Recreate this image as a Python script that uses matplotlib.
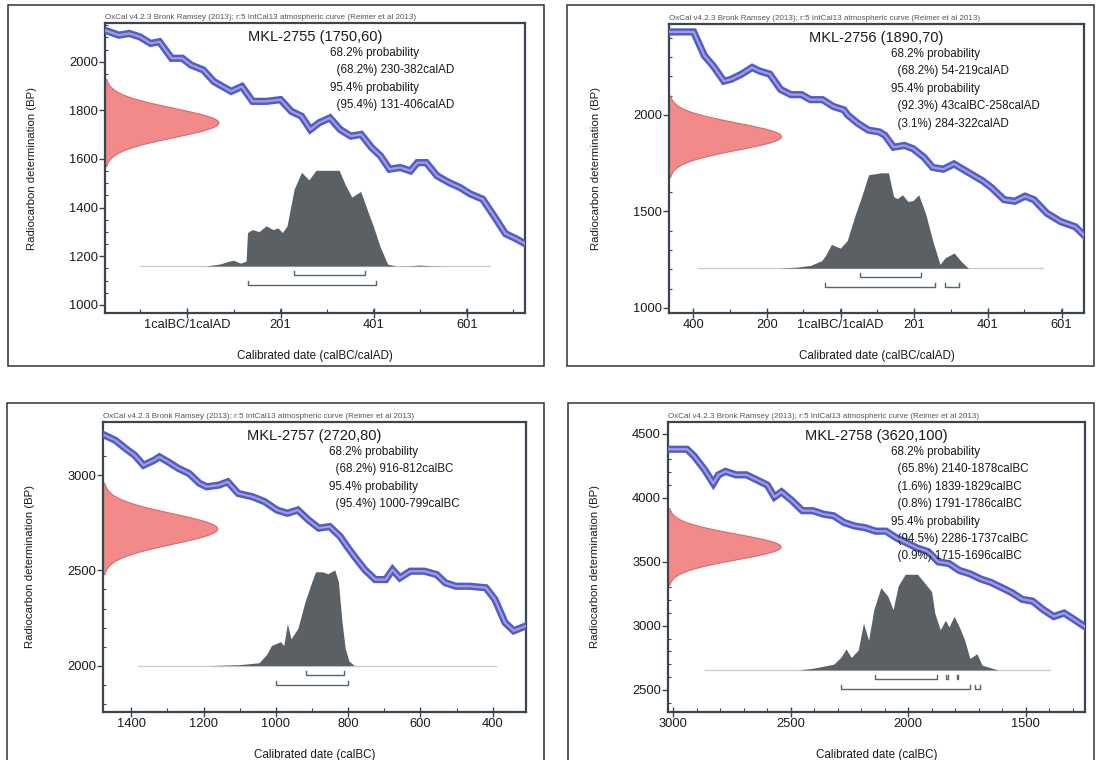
import numpy as np
import matplotlib.pyplot as plt
from matplotlib.patches import Rectangle
from matplotlib.ticker import MultipleLocator
import matplotlib.transforms as mtransforms

plt.rcParams['font.family'] = ['Liberation Sans', 'DejaVu Sans']

W, H = 1096, 760
HEADER = "OxCal v4.2.3 Bronk Ramsey (2013); r:5 IntCal13 atmospheric curve (Reimer et al 2013)"

# ---- MKL-2755 ----
s1_name = "MKL-2755"
s1_bp, s1_err = 1750, 60
s1_text = ["68.2% probability", "  (68.2%) 230-382calAD",
           "95.4% probability", "  (95.4%) 131-406calAD"]
s1_r68 = [(230, 382)]
s1_r95 = [(131, 406)]
s1_curve_x = [-176, -146, -124, -101, -78, -59, -33, -10, 9, 35, 58, 95, 118, 141, 171, 201,
              224, 246, 265, 284, 307, 329, 352, 374, 397, 416, 435, 458, 480, 495, 514, 537,
              563, 586, 609, 635, 661, 684, 707, 726]
s1_curve_y = [2129, 2109, 2116, 2102, 2075, 2082, 2014, 2014, 1986, 1966, 1918, 1878, 1898, 1837,
              1837, 1844, 1796, 1776, 1721, 1749, 1769, 1721, 1694, 1701, 1646, 1612, 1558, 1565,
              1551, 1585, 1585, 1531, 1503, 1483, 1456, 1435, 1361, 1293, 1272, 1252]
s1_post_x = [40, 70, 90, 100, 115, 127, 130, 140, 155, 170, 185, 195, 205, 215, 230, 246, 262,
             277, 300, 327, 340, 354, 373, 390, 400, 415, 431, 450, 480, 500, 520, 560]
s1_post_p = [0, 0.02, 0.05, 0.06, 0.03, 0.05, 0.35, 0.38, 0.36, 0.42, 0.38, 0.40, 0.35, 0.42,
             0.80, 0.98, 0.90, 1.0, 1.0, 1.0, 0.85, 0.72, 0.78, 0.55, 0.42, 0.20, 0.02, 0,
             0.003, 0.01, 0.003, 0]
s1_base_x = (-101, 650)

# ---- MKL-2756 ----
s2_name = "MKL-2756"
s2_bp, s2_err = 1890, 70
s2_text = ["68.2% probability", "  (68.2%) 54-219calAD",
           "95.4% probability", "  (92.3%) 43calBC-258calAD", "  (3.1%) 284-322calAD"]
s2_r68 = [(54, 219)]
s2_r95 = [(-42, 258), (284, 322)]
s2_curve_x = [-465, -398, -369, -345, -316, -297, -268, -239, -220, -191, -162, -134, -105, -81,
              -48, -19, 10, 20, 48, 77, 106, 121, 145, 174, 198, 227, 251, 280, 309, 348, 387,
              411, 445, 474, 502, 526, 561, 599, 638, 662]
s2_curve_y = [2430, 2430, 2307, 2254, 2175, 2184, 2211, 2246, 2228, 2211, 2132, 2105, 2105, 2079,
              2079, 2044, 2026, 2000, 1956, 1921, 1912, 1895, 1833, 1842, 1825, 1781, 1728, 1719,
              1746, 1702, 1658, 1623, 1561, 1553, 1579, 1561, 1491, 1447, 1421, 1377]
s2_post_x = [-165, -120, -80, -50, -39, -24, 0, 19, 39, 58, 77, 111, 131, 145, 155, 169, 184,
             198, 213, 232, 251, 271, 285, 300, 309, 329, 348, 396]
s2_post_p = [0, 0.01, 0.03, 0.08, 0.14, 0.25, 0.21, 0.29, 0.54, 0.75, 0.98, 1.0, 1.0, 0.75,
             0.73, 0.77, 0.70, 0.71, 0.77, 0.57, 0.29, 0.04, 0.11, 0.14, 0.16, 0.07, 0, 0]
s2_base_x = (-386, 551)

# ---- MKL-2757 ----
s3_name = "MKL-2757"
s3_bp, s3_err = 2720, 80
s3_text = ["68.2% probability", "  (68.2%) 916-812calBC",
           "95.4% probability", "  (95.4%) 1000-799calBC"]
s3_r68 = [(916, 812)]
s3_r95 = [(1000, 799)]
s3_curve_x = [1473, 1444, 1415, 1390, 1366, 1337, 1322, 1298, 1269, 1240, 1211, 1191, 1157, 1133,
              1104, 1065, 1031, 997, 968, 939, 910, 881, 851, 822, 803, 783, 754, 725, 696, 677,
              657, 628, 589, 555, 531, 502, 463, 419, 394, 366, 342, 308]
s3_curve_y = [3209, 3183, 3139, 3104, 3052, 3078, 3096, 3070, 3035, 3009, 2957, 2939, 2948, 2965,
              2904, 2887, 2861, 2817, 2800, 2817, 2765, 2722, 2730, 2678, 2626, 2574, 2504, 2452,
              2452, 2504, 2461, 2496, 2496, 2478, 2435, 2417, 2417, 2409, 2348, 2226, 2183, 2209]
s3_post_x = [1185, 1100, 1046, 1025, 1012, 987, 978, 968, 958, 939, 919, 900, 890, 871, 856, 837,
             827, 817, 808, 798, 783]
s3_post_p = [0, 0.01, 0.03, 0.12, 0.21, 0.25, 0.21, 0.44, 0.28, 0.39, 0.67, 0.88, 0.98, 0.98,
             0.96, 1.0, 0.88, 0.46, 0.18, 0.05, 0]
s3_base_x = (1381, 391)

# ---- MKL-2758 ----
s4_name = "MKL-2758"
s4_bp, s4_err = 3620, 100
s4_text = ["68.2% probability", "  (65.8%) 2140-1878calBC", "  (1.6%) 1839-1829calBC",
           "  (0.8%) 1791-1786calBC", "95.4% probability", "  (94.5%) 2286-1737calBC",
           "  (0.9%) 1715-1696calBC"]
s4_r68 = [(2140, 1878), (1839, 1829), (1791, 1786)]
s4_r95 = [(2286, 1737), (1715, 1696)]
s4_curve_x = [3015, 2941, 2911, 2866, 2829, 2807, 2777, 2733, 2688, 2643, 2599, 2569, 2539, 2495,
              2450, 2406, 2361, 2317, 2272, 2227, 2183, 2138, 2094, 2049, 2004, 1960, 1915, 1871,
              1826, 1782, 1737, 1692, 1648, 1603, 1559, 1514, 1470, 1425, 1380, 1336, 1291, 1247]
s4_curve_y = [4380, 4380, 4327, 4220, 4113, 4180, 4207, 4180, 4180, 4140, 4100, 4007, 4047, 3980,
              3900, 3900, 3873, 3860, 3807, 3780, 3767, 3740, 3740, 3687, 3647, 3607, 3580, 3500,
              3487, 3433, 3407, 3367, 3340, 3300, 3260, 3207, 3193, 3127, 3073, 3100, 3047, 2993]
s4_post_x = [2465, 2400, 2317, 2287, 2264, 2242, 2212, 2190, 2168, 2146, 2116, 2086, 2064, 2042,
             2012, 1960, 1930, 1900, 1886, 1863, 1841, 1826, 1804, 1782, 1759, 1737, 1707, 1685,
             1618]
s4_post_p = [0, 0.02, 0.06, 0.13, 0.22, 0.13, 0.21, 0.49, 0.31, 0.63, 0.86, 0.77, 0.63, 0.88,
             1.0, 1.0, 0.91, 0.82, 0.59, 0.42, 0.52, 0.45, 0.56, 0.45, 0.31, 0.12, 0.17, 0.05, 0]
s4_base_x = (2866, 1395)

fig = plt.figure(figsize=(W / 100, H / 100), dpi=100)

# panel frames
for l, t, r, b in [(8, 5, 544, 366), (567, 5, 1094, 366), (7, 403, 544, 775), (568, 403, 1094, 775)]:
    fig.add_artist(Rectangle((l / W, 1 - b / H), (r - l) / W, (b - t) / H, transform=fig.transFigure,
                             fill=False, lw=1.1, ec='#333333'))

TXT = '#1a1a1a'
AXC = '#3a4550'


def add_panel(box, name, bp, err, lines, curve_x, curve_y, post_x, post_p, base_x, r68, r95,
              xlim, ylim, xticks, xlabels, ymajor, yminor, xminor, xlabel, base_frac):
    l, t, r, b = box
    ax = fig.add_axes([l / W, 1 - b / H, (r - l) / W, (b - t) / H])
    ax.set_xlim(*xlim)
    ax.set_ylim(*ylim)
    hpx = b - t
    blend = mtransforms.blended_transform_factory(ax.transData, ax.transAxes)
    blend_y = mtransforms.blended_transform_factory(ax.transAxes, ax.transData)

    # measured radiocarbon age on the y axis
    yy = np.linspace(bp - 3 * err, bp + 3 * err, 200)
    dens = np.exp(-0.5 * ((yy - bp) / err) ** 2)
    ax.fill_betweenx(yy, 0, 0.27 * dens, transform=blend_y, color='#f28a8a', lw=0.8,
                     edgecolor='#d86a6a', zorder=2)

    # calibration curve
    ax.plot(curve_x, curve_y, color='#4d5ecb', lw=5.2, solid_joinstyle='miter', zorder=3)
    ax.plot(curve_x, curve_y, color='#a99ad8', lw=1.6, zorder=4)

    # calibrated distribution
    ax.plot(base_x, [base_frac, base_frac], transform=blend, color='#c3ccd4', lw=0.9, zorder=2)
    pp = np.array(post_p)
    ax.fill_between(post_x, base_frac, base_frac + 0.33 * pp, transform=blend,
                    color='#5b6064', lw=0, zorder=5)

    # probability ranges
    tick = 0.014
    for rng, yf in [(r68, base_frac - 0.032), (r95, base_frac - 0.066)]:
        for a, c in rng:
            ax.plot([a, a, c, c], [yf + tick, yf, yf, yf + tick], transform=blend,
                    color='#56646e', lw=1.0, zorder=5)

    ax.text(0.5, 1 - 14 / hpx, f"{name} ({bp},{err})", transform=ax.transAxes, ha='center',
            va='center', fontsize=10.5, color=TXT)
    for i, s in enumerate(lines):
        ax.text(0.535, 1 - (30 + 17.4 * i) / hpx, s, transform=ax.transAxes, ha='left',
                va='center', fontsize=8.4, color=TXT)
    ax.text(0.0, 1.008, HEADER, transform=ax.transAxes, ha='left', va='bottom', fontsize=5.8,
            color='#555555')

    ax.set_xticks(xticks)
    ax.set_xticklabels(xlabels)
    ax.xaxis.set_minor_locator(MultipleLocator(xminor))
    ax.yaxis.set_major_locator(MultipleLocator(ymajor))
    ax.yaxis.set_minor_locator(MultipleLocator(yminor))
    ax.tick_params(axis='x', which='major', direction='inout', length=7, width=1, pad=1,
                   labelsize=9.3, color=AXC, labelcolor=TXT)
    ax.tick_params(axis='x', which='minor', direction='in', length=3, width=0.8, color=AXC)
    ax.tick_params(axis='y', which='major', direction='out', length=4, width=1, pad=1,
                   labelsize=9.3, color=AXC, labelcolor=TXT)
    ax.tick_params(axis='y', which='minor', direction='in', length=2.5, width=0.8, color=AXC)
    for sp in ax.spines.values():
        sp.set_color(AXC)
        sp.set_linewidth(1.6)
    ax.set_ylabel("Radiocarbon determination (BP)", fontsize=8.2, color=TXT)
    ax.yaxis.set_label_coords(-68 / (r - l), 0.5)
    ax.set_xlabel(xlabel, fontsize=8.4, color=TXT)
    ax.xaxis.set_label_coords(0.5, -37 / hpx)
    return ax


add_panel((105, 23, 525, 313), s1_name, s1_bp, s1_err, s1_text, s1_curve_x, s1_curve_y,
          s1_post_x, s1_post_p, s1_base_x, s1_r68, s1_r95,
          (-176, 726), (967, 2159), [1, 201, 401, 601], ['1calBC/1calAD', '201', '401', '601'],
          200, 50, 100, "Calibrated date (calBC/calAD)", 0.162)

add_panel((669, 24, 1084, 313), s2_name, s2_bp, s2_err, s2_text, s2_curve_x, s2_curve_y,
          s2_post_x, s2_post_p, s2_base_x, s2_r68, s2_r95,
          (-465, 662), (974, 2471), [-399, -199, 1, 201, 401, 601],
          ['400', '200', '1calBC/1calAD', '201', '401', '601'],
          500, 100, 100, "Calibrated date (calBC/calAD)", 0.155)

add_panel((103, 422, 526, 712), s3_name, s3_bp, s3_err, s3_text, s3_curve_x, s3_curve_y,
          s3_post_x, s3_post_p, s3_base_x, s3_r68, s3_r95,
          (1478, 308), (1757, 3279), [1400, 1200, 1000, 800, 600, 400],
          ['1400', '1200', '1000', '800', '600', '400'],
          500, 100, 100, "Calibrated date (calBC)", 0.16)

add_panel((668, 422, 1085, 712), s4_name, s4_bp, s4_err, s4_text, s4_curve_x, s4_curve_y,
          s4_post_x, s4_post_p, s4_base_x, s4_r68, s4_r95,
          (3022, 1247), (2327, 4593), [3000, 2500, 2000, 1500],
          ['3000', '2500', '2000', '1500'],
          500, 100, 100, "Calibrated date (calBC)", 0.145)

fig.savefig('out.png', dpi=100)
